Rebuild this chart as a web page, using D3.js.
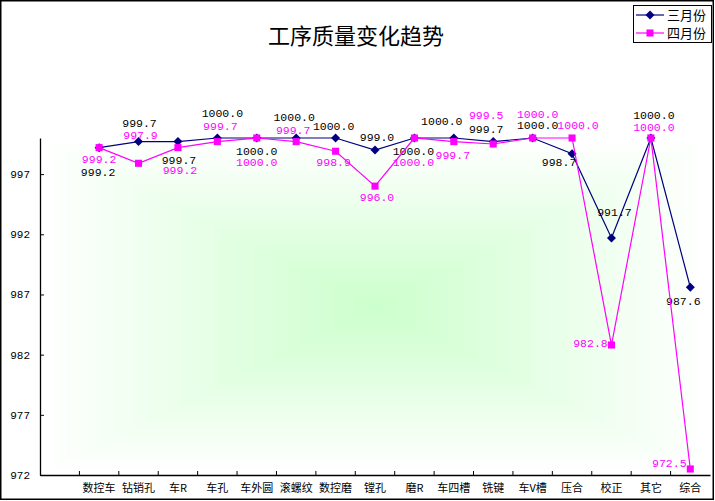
<!DOCTYPE html>
<html>
<head>
<meta charset="utf-8">
<script src="https://cdn.jsdelivr.net/npm/d3@7"></script>
<style>
  body { margin: 0; background: #fff; }
  svg { display: block; }
</style>
</head>
<body>
<div id="vis"></div>
<script>
// data
const CATEGORIES = ["数控车", "钻销孔", "车R", "车孔", "车外圆", "滚螺纹", "数控磨", "镗孔",
                    "磨R", "车四槽", "铣键", "车V槽", "压合", "校正", "其它", "综合"];
const MARCH = [999.2, 999.7, 999.7, 1000.0, 1000.0, 1000.0, 1000.0, 999.0,
               1000.0, 1000.0, 999.7, 1000.0, 998.7, 991.7, 1000.0, 987.6];
const APRIL = [999.2, 997.9, 999.2, 999.7, 1000.0, 999.7, 998.9, 996.0,
               1000.0, 999.7, 999.5, 1000.0, 1000.0, 982.8, 1000.0, 972.5];
const Y_TICKS = [972, 977, 982, 987, 992, 997];
const SERIES_NAMES = ["三月份", "四月份"];

// label nudges (dx, dy from the point) so the labels sit where the original has them
const MARCH_LABEL_OFFSETS = [[-1, 28], [1, -15], [1, 22], [5, -21], [0, 17], [-2, -17], [-2, -8], [2, -9],
                             [-1, 17], [-12, -13], [-7, -9], [5, -9], [-13, 12], [3, -22], [3, -19], [-7, 18]];
const APRIL_LABEL_OFFSETS = [[0, 15], [2, -24], [2, 26], [3, -12], [0, 28], [-3, -8], [-2, 15], [2, 15],
                             [-1, 28], [-1, 17], [-7, -25], [5, -20], [6, -9], [-21, 2], [3, -7], [-21, -2]];

const FRAME_WIDTH = 715;
const FRAME_HEIGHT = 501;
const PLOT = {left: 40, right: 710, top: 138, bottom: 475};

const svg = d3.select("#vis")
  .append("svg")
    .attr("width", FRAME_WIDTH)
    .attr("height", FRAME_HEIGHT);

svg.append("rect")
  .attr("x", 0.75).attr("y", 0.75)
  .attr("width", FRAME_WIDTH - 2.5).attr("height", FRAME_HEIGHT - 2.5)
  .attr("fill", "#fff")
  .attr("stroke", "#000")
  .attr("stroke-width", 1.5);

// rectangular "from centre" fill of the plot area
const STEPS = 50;
const plotW = PLOT.right - PLOT.left;
const plotH = PLOT.bottom - PLOT.top;
const fillColor = d3.interpolateRgb("#ffffff", "#ccffcc");
svg.append("g")
  .selectAll("rect")
  .data(d3.range(STEPS))
  .enter()
  .append("rect")
    .attr("x", (i) => PLOT.left + i / STEPS * plotW / 2)
    .attr("y", (i) => PLOT.top + i / STEPS * plotH / 2)
    .attr("width", (i) => plotW * (1 - i / STEPS))
    .attr("height", (i) => plotH * (1 - i / STEPS))
    .attr("fill", (i) => fillColor(i / STEPS));

// the original has an empty leading category
const X_SCALE = d3.scaleBand()
  .domain([""].concat(CATEGORIES))
  .range([PLOT.left, PLOT.right]);

const Y_SCALE = d3.scaleLinear()
  .domain([972, 1000])
  .range([PLOT.bottom, PLOT.top]);

const xc = (i) => X_SCALE(CATEGORIES[i]) + X_SCALE.bandwidth() / 2;

// title
svg.append("text")
  .attr("x", 356)
  .attr("y", 44)
  .attr("text-anchor", "middle")
  .attr("font-family", "Noto Sans CJK SC")
  .attr("font-size", "22px")
  .attr("fill", "#000")
  .text("工序质量变化趋势");

// y axis
const yAxis = svg.append("g")
  .attr("transform", "translate(" + PLOT.left + ",0)")
  .call(d3.axisLeft(Y_SCALE).tickValues(Y_TICKS).tickSize(-4).tickSizeOuter(0).tickPadding(10));
yAxis.select(".domain").attr("stroke", "#000").attr("stroke-width", 1.3);
yAxis.selectAll(".tick line").attr("stroke", "#000");
yAxis.selectAll("text")
  .attr("font-family", "Liberation Mono")
  .attr("font-size", "11px")
  .attr("fill", "#000");

// x axis: labels at the band centres, ticks at band edges
const xAxis = svg.append("g")
  .attr("transform", "translate(0," + PLOT.bottom + ")")
  .call(d3.axisBottom(X_SCALE).tickSize(0).tickSizeOuter(0).tickPadding(9));
xAxis.select(".domain").attr("stroke", "#000").attr("stroke-width", 1.3);
xAxis.selectAll("text")
  .attr("font-family", "Noto Sans CJK SC")
  .attr("font-size", "11px")
  .attr("fill", "#000");

svg.append("g")
  .selectAll("line")
  .data(X_SCALE.domain().slice(1))
  .enter()
  .append("line")
    .attr("x1", (d) => X_SCALE(d))
    .attr("x2", (d) => X_SCALE(d))
    .attr("y1", PLOT.bottom)
    .attr("y2", PLOT.bottom - 4)
    .attr("stroke", "#000");

// series
const line = d3.line()
  .x((d, i) => xc(i))
  .y((d) => Y_SCALE(d));

function drawSeries(values, color, marker, offsets, labelColor) {
  const g = svg.append("g");
  g.append("path")
    .datum(values)
    .attr("d", line)
    .attr("fill", "none")
    .attr("stroke", color)
    .attr("stroke-width", 1.2);

  g.selectAll("path.pt")
    .data(values)
    .enter()
    .append("path")
      .attr("class", "pt")
      .attr("transform", (d, i) => "translate(" + xc(i) + "," + Y_SCALE(d) + ")")
      .attr("d", marker)
      .attr("fill", color);

  g.selectAll("text")
    .data(values)
    .enter()
    .append("text")
      .attr("x", (d, i) => xc(i) + offsets[i][0])
      .attr("y", (d, i) => Y_SCALE(d) + offsets[i][1])
      .attr("text-anchor", "middle")
      .attr("font-family", "Liberation Mono")
      .attr("font-size", "11.5px")
      .attr("fill", labelColor)
      .text((d) => d.toFixed(1));
}

// excel style diamond is a square turned 45 degrees
const diamond = "M0,-4.5L4.5,0L0,4.5L-4.5,0Z";
const square = d3.symbol().type(d3.symbolSquare).size(50)();

drawSeries(MARCH, "#000080", diamond, MARCH_LABEL_OFFSETS, "#000");
drawSeries(APRIL, "#ff00ff", square, APRIL_LABEL_OFFSETS, "#ff00ff");

// legend
const legend = svg.append("g").attr("transform", "translate(633,5)");
legend.append("rect")
  .attr("x", 0.5).attr("y", 0.5)
  .attr("width", 78).attr("height", 37)
  .attr("fill", "#fff")
  .attr("stroke", "#000");

const legendItems = [
  {name: SERIES_NAMES[0], color: "#000080", marker: diamond},
  {name: SERIES_NAMES[1], color: "#ff00ff", marker: square}
];
legendItems.forEach((item, i) => {
  const yy = 10 + i * 18;
  legend.append("line")
    .attr("x1", 3).attr("x2", 31)
    .attr("y1", yy).attr("y2", yy)
    .attr("stroke", item.color)
    .attr("stroke-width", 1.2);
  legend.append("path")
    .attr("transform", "translate(17," + yy + ")")
    .attr("d", item.marker)
    .attr("fill", item.color);
  legend.append("text")
    .attr("x", 34)
    .attr("y", yy + 4.5)
    .attr("font-family", "Noto Sans CJK SC")
    .attr("font-size", "13px")
    .attr("fill", "#000")
    .text(item.name);
});
</script>
</body>
</html>
